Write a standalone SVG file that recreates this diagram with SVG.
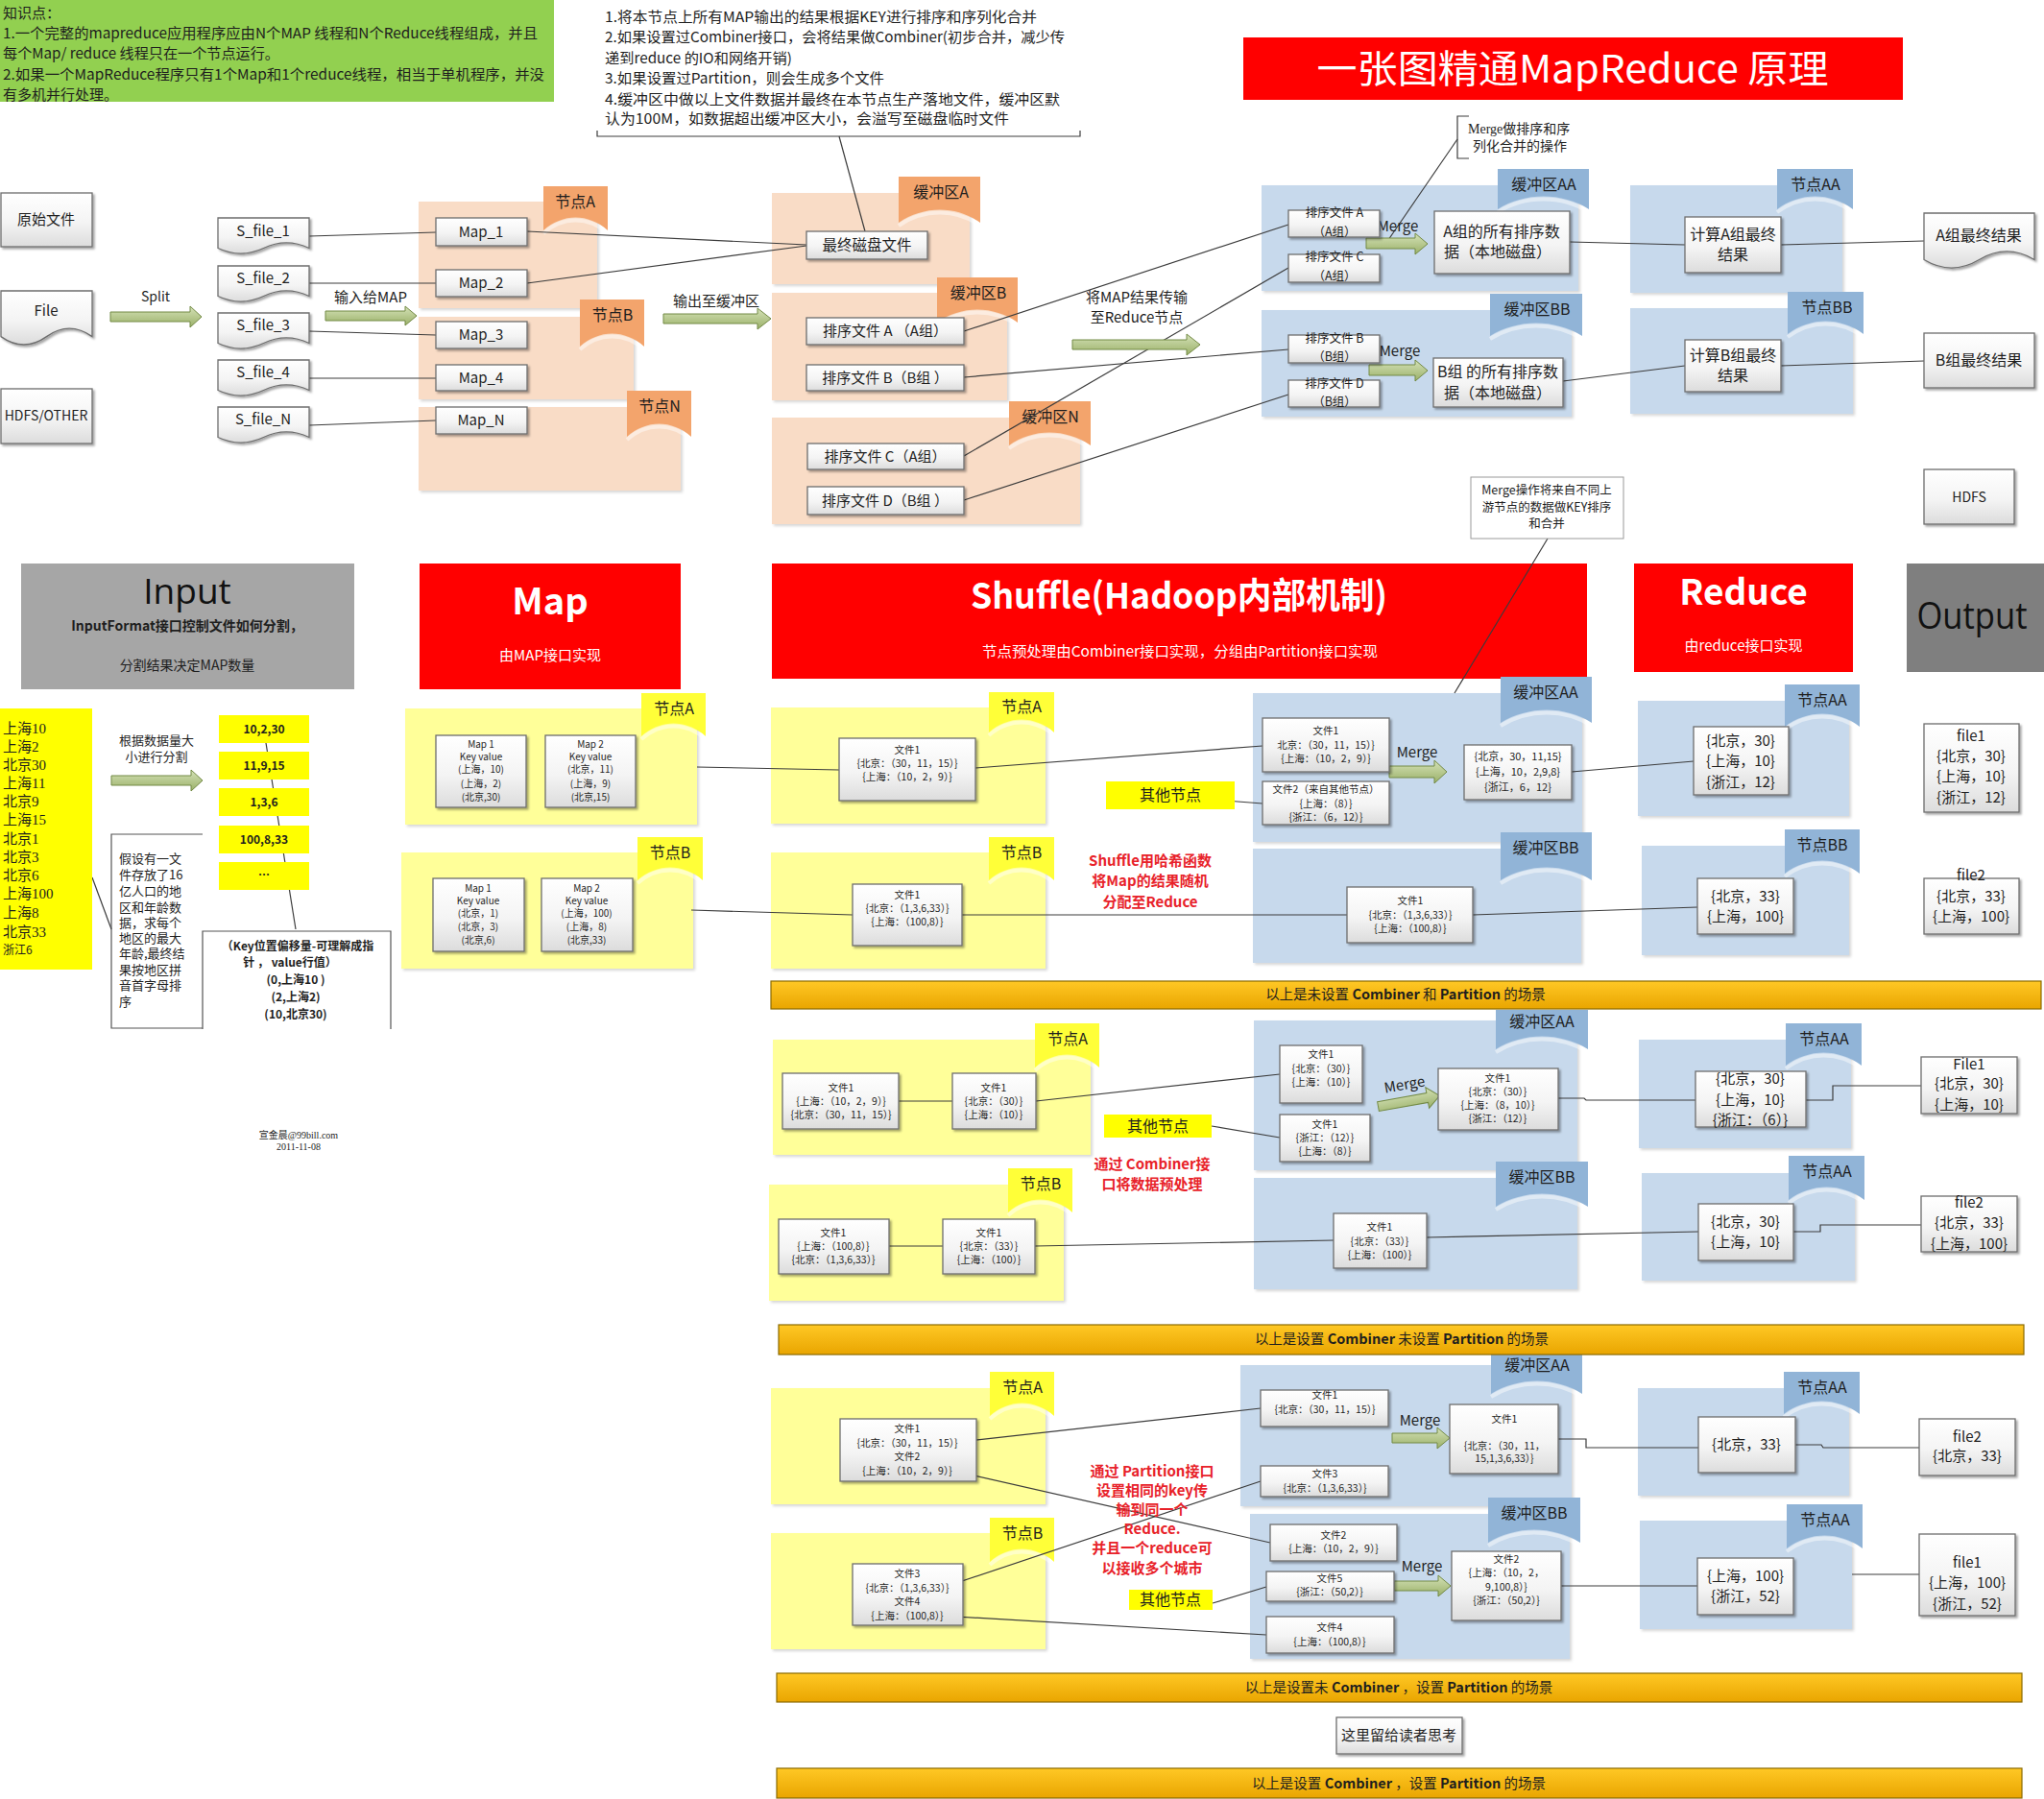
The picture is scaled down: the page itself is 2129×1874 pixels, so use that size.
<svg xmlns="http://www.w3.org/2000/svg" width="2129" height="1874" viewBox="0 0 2129 1874">
<defs>
<linearGradient id="gBox" x1="0" y1="0" x2="0" y2="1"><stop offset="0" stop-color="#ffffff"/><stop offset="0.55" stop-color="#f4f4f4"/><stop offset="1" stop-color="#dcdcdc"/></linearGradient>
<linearGradient id="gAr" x1="0" y1="0" x2="0" y2="1"><stop offset="0" stop-color="#d5e2b8"/><stop offset="1" stop-color="#9ab068"/></linearGradient>
<linearGradient id="gBar" x1="0" y1="0" x2="0" y2="1"><stop offset="0" stop-color="#ffc825"/><stop offset="1" stop-color="#e9a500"/></linearGradient>
<filter id="sh" x="-10%" y="-10%" width="125%" height="130%"><feDropShadow dx="2" dy="2" stdDeviation="1.2" flood-color="#000" flood-opacity="0.35"/></filter>
<filter id="shr" x="-5%" y="-5%" width="115%" height="115%"><feDropShadow dx="2" dy="2" stdDeviation="1.5" flood-color="#000" flood-opacity="0.16"/></filter>
</defs>
<style>
.f{font-family:"Noto Sans CJK SC","Noto Sans",sans-serif;fill:#1e1e1e}
.s{font-family:"Liberation Serif","Noto Sans CJK SC",serif;fill:#1e1e1e}
.m{text-anchor:middle}
.b{font-weight:bold}
.box{fill:url(#gBox);stroke:#6e6e6e;stroke-width:1.3;filter:url(#sh)}
.ln{fill:none;stroke:#3c3c3c;stroke-width:1.2}
.ar{fill:url(#gAr);stroke:#738a45;stroke-width:1}
.ob{fill:#f9dcc6;filter:url(#shr)}
.ot{fill:#f3a46c}
.yb{fill:#ffff99;filter:url(#shr)}
.yt{fill:#ffff38}
.bb{fill:#c7d9ec;filter:url(#shr)}
.bt{fill:#91b4d7}
.hl{fill:none;stroke:#ffffff;stroke-opacity:0.45;stroke-width:4}
.bar{fill:url(#gBar);stroke:#8a6a00;stroke-width:1.2}
.red{fill:#e8222a;font-weight:bold}
.wt{fill:#ffffff}
</style>

<!-- knowledge -->
<g id="knowledge">
<rect x="0" y="0" width="577" height="106" fill="#92d050"/>
<text class="f" font-size="15" x="3" y="19">知识点：</text>
<text class="f" font-size="15" x="3" y="40" textLength="557" lengthAdjust="spacingAndGlyphs">1.一个完整的mapreduce应用程序应由N个MAP 线程和N个Reduce线程组成，并且</text>
<text class="f" font-size="15" x="3" y="61" textLength="288" lengthAdjust="spacingAndGlyphs">每个Map/ reduce 线程只在一个节点运行。</text>
<text class="f" font-size="15" x="3" y="83" textLength="564" lengthAdjust="spacingAndGlyphs">2.如果一个MapReduce程序只有1个Map和1个reduce线程，相当于单机程序，并没</text>
<text class="f" font-size="15" x="3" y="104">有多机并行处理。</text>
</g>

<g id="note-buffer">
<text class="f" font-size="15" x="630" y="23" textLength="450" lengthAdjust="spacingAndGlyphs">1.将本节点上所有MAP输出的结果根据KEY进行排序和序列化合并</text>
<text class="f" font-size="15" x="630" y="44" textLength="479" lengthAdjust="spacingAndGlyphs">2.如果设置过Combiner接口，会将结果做Combiner(初步合并，减少传</text>
<text class="f" font-size="15" x="630" y="66" textLength="195" lengthAdjust="spacingAndGlyphs">递到reduce 的IO和网络开销)</text>
<text class="f" font-size="15" x="630" y="87" textLength="291" lengthAdjust="spacingAndGlyphs">3.如果设置过Partition，则会生成多个文件</text>
<text class="f" font-size="15" x="630" y="109" textLength="474" lengthAdjust="spacingAndGlyphs">4.缓冲区中做以上文件数据并最终在本节点生产落地文件，缓冲区默</text>
<text class="f" font-size="15" x="630" y="129" textLength="421" lengthAdjust="spacingAndGlyphs">认为100M，如数据超出缓冲区大小，会溢写至磁盘临时文件</text>
<path class="ln" d="M622,136 V142 H1125 V136" stroke="#555"/>
</g>

<g id="title">
<rect x="1295" y="39" width="687" height="65" fill="#ff0000"/>
<text class="f m wt" font-size="40" x="1638" y="86" textLength="533" lengthAdjust="spacingAndGlyphs">一张图精通MapReduce 原理</text>
</g>

<g id="note-merge">
<path class="ln" d="M1530,121 H1518 V165 H1530"/>
<text class="s" font-size="14" x="1529" y="139">Merge做排序和序</text>
<text class="s" font-size="14" x="1534" y="157">列化合并的操作</text>
</g>

<!-- top regions -->
<g id="reg-nodeA"><rect class="ob" x="436" y="210" width="186" height="111"/><path class="ot" d="M566,194 H633 V240 C613,222 586,222 566,240 Z"/><path class="hl" d="M566,243 C586,225 613,225 633,243"/><text class="f m" font-size="16" x="599" y="216">节点A</text></g>
<g id="reg-nodeB"><rect class="ob" x="436" y="330" width="224" height="86"/><path class="ot" d="M604,312 H671 V361 C651,343 624,343 604,361 Z"/><path class="hl" d="M604,364 C624,346 651,346 671,364"/><text class="f m" font-size="16" x="638" y="334">节点B</text></g>
<g id="reg-nodeN"><rect class="ob" x="436" y="424" width="273" height="87"/><path class="ot" d="M653,407 H720 V455 C700,437 673,437 653,455 Z"/><path class="hl" d="M653,458 C673,440 700,440 720,458"/><text class="f m" font-size="16" x="687" y="429">节点N</text></g>
<g id="reg-bufA"><rect class="ob" x="804" y="201" width="206" height="95"/><path class="ot" d="M936,184 H1021 V232 C996,214 962,214 936,232 Z"/><path class="hl" d="M936,235 C962,217 996,217 1021,235"/><text class="f m" font-size="16" x="980" y="206">缓冲区A</text></g>
<g id="reg-bufB"><rect class="ob" x="804" y="305" width="245" height="112"/><path class="ot" d="M976,289 H1060 V336 C1035,318 1001,318 976,336 Z"/><path class="hl" d="M976,339 C1001,321 1035,321 1060,339"/><text class="f m" font-size="16" x="1019" y="311">缓冲区B</text></g>
<g id="reg-bufN"><rect class="ob" x="804" y="435" width="321" height="111"/><path class="ot" d="M1051,418 H1136 V464 C1110,446 1076,446 1051,464 Z"/><path class="hl" d="M1051,467 C1076,449 1110,449 1136,467"/><text class="f m" font-size="16" x="1094" y="440">缓冲区N</text></g>
<g id="reg-bufAA"><rect class="bb" x="1314" y="193" width="330" height="110"/><path class="bt" d="M1560,176 H1655 V218 C1627,200 1588,200 1560,218 Z"/><path class="hl" d="M1560,221 C1588,203 1627,203 1655,221"/><text class="f m" font-size="16" x="1608" y="198">缓冲区AA</text></g>
<g id="reg-nodeAA"><rect class="bb" x="1698" y="193" width="221" height="112"/><path class="bt" d="M1851,176 H1930 V218 C1906,200 1875,200 1851,218 Z"/><path class="hl" d="M1851,221 C1875,203 1906,203 1930,221"/><text class="f m" font-size="16" x="1891" y="198">节点AA</text></g>
<g id="reg-bufBB"><rect class="bb" x="1314" y="323" width="323" height="111"/><path class="bt" d="M1552,306 H1648 V350 C1619,332 1581,332 1552,350 Z"/><path class="hl" d="M1552,353 C1581,335 1619,335 1648,353"/><text class="f m" font-size="16" x="1601" y="328">缓冲区BB</text></g>
<g id="reg-nodeBB"><rect class="bb" x="1698" y="321" width="232" height="110"/><path class="bt" d="M1862,304 H1941 V348 C1917,330 1886,330 1862,348 Z"/><path class="hl" d="M1862,351 C1886,333 1917,333 1941,351"/><text class="f m" font-size="16" x="1903" y="326">节点BB</text></g>

<!-- headers -->
<g id="hdr-input"><rect x="22" y="587" width="347" height="131" fill="#a6a6a6"/><text class="m" font-family="Open Sans,Noto Sans,sans-serif" font-size="37" fill="#111" x="195" y="629">Input</text><text class="f m b" font-size="14" x="195" y="657">InputFormat接口控制文件如何分割，</text><text class="f m" font-size="14" x="195" y="698">分割结果决定MAP数量</text></g>
<g id="hdr-map"><rect x="437" y="587" width="272" height="131" fill="#ff0000"/><text class="f m b wt" font-size="38" x="573" y="640">Map</text><text class="f m wt" font-size="15" x="573" y="688">由MAP接口实现</text></g>
<g id="hdr-shuffle"><rect x="804" y="587" width="849" height="120" fill="#ff0000"/><text class="f m b wt" font-size="37" x="1228" y="634" textLength="434" lengthAdjust="spacingAndGlyphs">Shuffle(Hadoop内部机制)</text><text class="f m wt" font-size="15" x="1229" y="684" textLength="412" lengthAdjust="spacingAndGlyphs">节点预处理由Combiner接口实现，分组由Partition接口实现</text></g>
<g id="hdr-reduce"><rect x="1702" y="587" width="228" height="113" fill="#ff0000"/><text class="f m b wt" font-size="37" x="1816" y="630">Reduce</text><text class="f m wt" font-size="15" x="1816" y="678">由reduce接口实现</text></g>
<g id="hdr-output"><rect x="1986" y="587" width="143" height="113" fill="#7f7f7f"/><text class="m" font-family="Open Sans,Noto Sans,sans-serif" font-size="38" fill="#111" x="2054" y="655" textLength="115" lengthAdjust="spacingAndGlyphs">Output</text></g>

<!-- section regions -->
<g id="reg-mapA"><rect class="yb" x="422" y="738" width="304" height="121"/><path class="yt" d="M668,722 H735 V767 C715,749 688,749 668,767 Z"/><path class="hl" d="M668,770 C688,752 715,752 735,770"/><text class="f m" font-size="16" x="702" y="744">节点A</text></g>
<g id="reg-mapB"><rect class="yb" x="418" y="888" width="304" height="121"/><path class="yt" d="M664,872 H732 V917 C712,899 684,899 664,917 Z"/><path class="hl" d="M664,920 C684,902 712,902 732,920"/><text class="f m" font-size="16" x="698" y="894">节点B</text></g>
<g id="reg-shA1"><rect class="yb" x="803" y="737" width="286" height="121"/><path class="yt" d="M1030,721 H1098 V763 C1078,745 1050,745 1030,763 Z"/><path class="hl" d="M1030,766 C1050,748 1078,748 1098,766"/><text class="f m" font-size="16" x="1064" y="742">节点A</text></g>
<g id="reg-shB1"><rect class="yb" x="803" y="888" width="286" height="121"/><path class="yt" d="M1030,872 H1098 V917 C1078,899 1050,899 1030,917 Z"/><path class="hl" d="M1030,920 C1050,902 1078,902 1098,920"/><text class="f m" font-size="16" x="1064" y="894">节点B</text></g>
<g id="reg-bufAA1"><rect class="bb" x="1305" y="722" width="343" height="155"/><path class="bt" d="M1563,705 H1658 V753 C1630,735 1592,735 1563,753 Z"/><path class="hl" d="M1563,756 C1592,738 1630,738 1658,756"/><text class="f m" font-size="16" x="1610" y="727">缓冲区AA</text></g>
<g id="reg-nodeAA1"><rect class="bb" x="1706" y="730" width="220" height="120"/><path class="bt" d="M1859,713 H1937 V757 C1914,739 1882,739 1859,757 Z"/><path class="hl" d="M1859,760 C1882,742 1914,742 1937,760"/><text class="f m" font-size="16" x="1898" y="735">节点AA</text></g>
<g id="reg-bufBB1"><rect class="bb" x="1305" y="884" width="342" height="119"/><path class="bt" d="M1563,867 H1658 V917 C1630,899 1592,899 1563,917 Z"/><path class="hl" d="M1563,920 C1592,902 1630,902 1658,920"/><text class="f m" font-size="16" x="1610" y="889">缓冲区BB</text></g>
<g id="reg-nodeBB1"><rect class="bb" x="1710" y="881" width="216" height="114"/><path class="bt" d="M1859,864 H1937 V910 C1914,892 1882,892 1859,910 Z"/><path class="hl" d="M1859,913 C1882,895 1914,895 1937,913"/><text class="f m" font-size="16" x="1898" y="886">节点BB</text></g>

<g id="reg-shA2"><rect class="yb" x="805" y="1083" width="331" height="120"/><path class="yt" d="M1078,1066 H1145 V1112 C1125,1094 1098,1094 1078,1112 Z"/><path class="hl" d="M1078,1115 C1098,1097 1125,1097 1145,1115"/><text class="f m" font-size="16" x="1112" y="1088">节点A</text></g>
<g id="reg-shB2"><rect class="yb" x="801" y="1234" width="307" height="121"/><path class="yt" d="M1050,1217 H1117 V1263 C1097,1245 1070,1245 1050,1263 Z"/><path class="hl" d="M1050,1266 C1070,1248 1097,1248 1117,1266"/><text class="f m" font-size="16" x="1084" y="1239">节点B</text></g>
<g id="reg-bufAA2"><rect class="bb" x="1306" y="1063" width="337" height="156"/><path class="bt" d="M1558,1052 H1654 V1093 C1625,1075 1587,1075 1558,1093 Z"/><path class="hl" d="M1558,1096 C1587,1078 1625,1078 1654,1096"/><text class="f m" font-size="16" x="1606" y="1070">缓冲区AA</text></g>
<g id="reg-nodeAA2"><rect class="bb" x="1707" y="1083" width="221" height="113"/><path class="bt" d="M1860,1066 H1939 V1110 C1915,1092 1884,1092 1860,1110 Z"/><path class="hl" d="M1860,1113 C1884,1095 1915,1095 1939,1113"/><text class="f m" font-size="16" x="1900" y="1088">节点AA</text></g>
<g id="reg-bufBB2"><rect class="bb" x="1306" y="1227" width="337" height="116"/><path class="bt" d="M1558,1210 H1654 V1257 C1625,1239 1587,1239 1558,1257 Z"/><path class="hl" d="M1558,1260 C1587,1242 1625,1242 1654,1260"/><text class="f m" font-size="16" x="1606" y="1232">缓冲区BB</text></g>
<g id="reg-nodeAA2b"><rect class="bb" x="1710" y="1222" width="222" height="112"/><path class="bt" d="M1863,1204 H1942 V1250 C1918,1232 1887,1232 1863,1250 Z"/><path class="hl" d="M1863,1253 C1887,1235 1918,1235 1942,1253"/><text class="f m" font-size="16" x="1903" y="1226">节点AA</text></g>

<g id="reg-shA3"><rect class="yb" x="803" y="1446" width="286" height="121"/><path class="yt" d="M1031,1429 H1098 V1475 C1078,1457 1051,1457 1031,1475 Z"/><path class="hl" d="M1031,1478 C1051,1460 1078,1460 1098,1478"/><text class="f m" font-size="16" x="1065" y="1451">节点A</text></g>
<g id="reg-shB3"><rect class="yb" x="803" y="1597" width="286" height="121"/><path class="yt" d="M1031,1581 H1098 V1627 C1078,1609 1051,1609 1031,1627 Z"/><path class="hl" d="M1031,1630 C1051,1612 1078,1612 1098,1630"/><text class="f m" font-size="16" x="1065" y="1603">节点B</text></g>
<g id="reg-bufAA3"><rect class="bb" x="1292" y="1422" width="345" height="147"/><path class="bt" d="M1553,1411 H1648 V1452 C1620,1434 1582,1434 1553,1452 Z"/><path class="hl" d="M1553,1455 C1582,1437 1620,1437 1648,1455"/><text class="f m" font-size="16" x="1601" y="1428">缓冲区AA</text></g>
<g id="reg-nodeAA3"><rect class="bb" x="1706" y="1446" width="220" height="112"/><path class="bt" d="M1858,1429 H1937 V1473 C1913,1455 1882,1455 1858,1473 Z"/><path class="hl" d="M1858,1476 C1882,1458 1913,1458 1937,1476"/><text class="f m" font-size="16" x="1898" y="1451">节点AA</text></g>
<g id="reg-bufBB3"><rect class="bb" x="1302" y="1577" width="333" height="151"/><path class="bt" d="M1550,1560 H1646 V1607 C1617,1589 1579,1589 1550,1607 Z"/><path class="hl" d="M1550,1610 C1579,1592 1617,1592 1646,1610"/><text class="f m" font-size="16" x="1598" y="1582">缓冲区BB</text></g>
<g id="reg-nodeAA3b"><rect class="bb" x="1708" y="1584" width="221" height="113"/><path class="bt" d="M1861,1567 H1940 V1613 C1916,1595 1885,1595 1861,1613 Z"/><path class="hl" d="M1861,1616 C1885,1598 1916,1598 1940,1616"/><text class="f m" font-size="16" x="1901" y="1589">节点AA</text></g>

<!-- connectors -->
<g id="connectors" class="ln">
<line x1="322" y1="246" x2="454" y2="242"/>
<line x1="322" y1="295" x2="454" y2="295"/>
<line x1="322" y1="345" x2="454" y2="349"/>
<line x1="322" y1="394" x2="454" y2="394"/>
<line x1="322" y1="443" x2="454" y2="438"/>
<line x1="549" y1="241" x2="840" y2="255"/>
<line x1="549" y1="295" x2="840" y2="256"/>
<line x1="874" y1="142" x2="901" y2="241"/>
<line x1="1004" y1="345" x2="1342" y2="234"/>
<line x1="1004" y1="475" x2="1342" y2="279"/>
<line x1="1004" y1="393" x2="1342" y2="364"/>
<line x1="1004" y1="521" x2="1342" y2="411"/>
<line x1="1635" y1="252" x2="1755" y2="255"/>
<line x1="1855" y1="255" x2="2004" y2="251"/>
<line x1="1628" y1="397" x2="1755" y2="381"/>
<line x1="1855" y1="381" x2="2004" y2="376"/>
<line x1="1518" y1="145" x2="1446" y2="250"/>
<line x1="1612" y1="561" x2="1515" y2="722"/>
<line x1="277" y1="774" x2="308" y2="968"/>
<line x1="96" y1="914" x2="116" y2="968"/>
<line x1="726" y1="799" x2="874" y2="802"/>
<line x1="720" y1="948" x2="888" y2="953"/>
<line x1="1016" y1="800" x2="1315" y2="777"/>
<line x1="1002" y1="953" x2="1403" y2="953"/>
<line x1="1251" y1="832" x2="1315" y2="837"/>
<line x1="1637" y1="804" x2="1764" y2="793"/>
<line x1="1534" y1="953" x2="1768" y2="945"/>
<line x1="936" y1="1147" x2="992" y2="1147"/>
<line x1="1079" y1="1147" x2="1333" y2="1119"/>
<line x1="1262" y1="1173" x2="1333" y2="1185"/>
<polyline points="1623,1144 1650,1144 1652,1146 1766,1146"/>
<polyline points="1881,1146 1909,1146 1909,1131 2001,1131"/>
<line x1="926" y1="1298" x2="982" y2="1298"/>
<line x1="1078" y1="1298" x2="1389" y2="1292"/>
<line x1="1486" y1="1289" x2="1769" y2="1283"/>
<polyline points="1868,1283 1896,1283 1896,1276 2001,1276"/>
<line x1="990" y1="1503" x2="1313" y2="1467"/>
<line x1="992" y1="1532" x2="1323" y2="1607"/>
<line x1="981" y1="1654" x2="1313" y2="1543"/>
<line x1="979" y1="1683" x2="1319" y2="1703"/>
<line x1="1263" y1="1670" x2="1319" y2="1653"/>
<polyline points="1623,1499 1652,1499 1652,1508 1769,1508"/>
<polyline points="1870,1505 1897,1505 1899,1508 1999,1508"/>
<line x1="1626" y1="1652" x2="1768" y2="1652"/>
<line x1="1929" y1="1640" x2="1999" y2="1640"/>
</g>

<!-- arrows -->
<g id="arrows" class="ar">
<path d="M115,325 H198 V319 L210,330 L198,341 V335 H115 Z"/>
<path d="M339,324 H422 V319 L434,329 L422,339 V334 H339 Z"/>
<path d="M691,327 H789 V321 L803,332 L789,343 V337 H691 Z"/>
<path d="M1117,354 H1236 V348 L1250,359 L1236,370 V364 H1117 Z"/>
<path d="M1423,248 H1474 V243 L1487,254 L1474,265 V259 H1423 Z"/>
<path d="M1426,380 H1474 V375 L1487,386 L1474,397 V391 H1426 Z"/>
<path d="M116,808 H199 V802 L211,813 L199,824 V818 H116 Z"/>
<path d="M1447,798 H1494 V792 L1507,804 L1494,816 V810 H1447 Z"/>
<path transform="rotate(-10 1467 1147)" d="M1435,1142 H1487 V1136 L1500,1147 L1487,1158 V1152 H1435 Z"/>
<path d="M1450,1493 H1497 V1487 L1510,1498 L1497,1509 V1503 H1450 Z"/>
<path d="M1452,1647 H1498 V1641 L1511,1652 L1498,1663 V1657 H1452 Z"/>
</g>
<g id="arrow-labels">
<text class="f m" font-size="14" x="162" y="314">Split</text>
<text class="f m" font-size="15" x="386" y="315">输入给MAP</text>
<text class="f m" font-size="15" x="746" y="319">输出至缓冲区</text>
<text class="f m" font-size="15" x="1184" y="315">将MAP结果传输</text>
<text class="f m" font-size="15" x="1184" y="336">至Reduce节点</text>
<text class="f m" font-size="15" x="1456" y="241">Merge</text>
<text class="f m" font-size="15" x="1458" y="371">Merge</text>
<text class="f m" font-size="13" x="163" y="776">根据数据量大</text>
<text class="f m" font-size="13" x="163" y="793">小进行分割</text>
<text class="f m" font-size="15" x="1476" y="789">Merge</text>
<text class="f m" font-size="15" x="1463" y="1135" transform="rotate(-10 1463 1130)">Merge</text>
<text class="f m" font-size="15" x="1479" y="1485">Merge</text>
<text class="f m" font-size="15" x="1481" y="1637">Merge</text>
</g>

<!-- top nodes -->
<g id="n-src"><rect class="box" x="1" y="201" width="95" height="56"/><text class="f m" font-size="15" x="48" y="234">原始文件</text></g>
<g id="n-file"><path class="box" d="M1,303 H96 V350.6 Q72.25,333.8 48.5,350.6 T1,350.6 Z"/><text class="f m" font-size="15" x="48" y="329">File</text></g>
<g id="n-hdfsother"><rect class="box" x="1" y="405" width="95" height="57"/><text class="f m" font-size="14" x="48" y="438">HDFS/OTHER</text></g>
<g id="n-sf1"><path class="box" d="M227,227 H322 V258.5 Q298.25,247.4 274.5,258.5 T227,258.5 Z"/><text class="f m" font-size="15" x="274" y="246">S_file_1</text></g>
<g id="n-sf2"><path class="box" d="M227,277 H322 V308.5 Q298.25,297.4 274.5,308.5 T227,308.5 Z"/><text class="f m" font-size="15" x="274" y="295">S_file_2</text></g>
<g id="n-sf3"><path class="box" d="M227,326 H322 V357.5 Q298.25,346.4 274.5,357.5 T227,357.5 Z"/><text class="f m" font-size="15" x="274" y="344">S_file_3</text></g>
<g id="n-sf4"><path class="box" d="M227,375 H322 V406.5 Q298.25,395.4 274.5,406.5 T227,406.5 Z"/><text class="f m" font-size="15" x="274" y="393">S_file_4</text></g>
<g id="n-sfN"><path class="box" d="M227,424 H322 V455.5 Q298.25,444.4 274.5,455.5 T227,455.5 Z"/><text class="f m" font-size="15" x="274" y="442">S_file_N</text></g>
<g id="n-map1"><rect class="box" x="454" y="227" width="95" height="29"/><text class="f m" font-size="15" x="501" y="247">Map_1</text></g>
<g id="n-map2"><rect class="box" x="454" y="281" width="95" height="28"/><text class="f m" font-size="15" x="501" y="300">Map_2</text></g>
<g id="n-map3"><rect class="box" x="454" y="335" width="95" height="28"/><text class="f m" font-size="15" x="501" y="354">Map_3</text></g>
<g id="n-map4"><rect class="box" x="454" y="380" width="95" height="27"/><text class="f m" font-size="15" x="501" y="399">Map_4</text></g>
<g id="n-mapN"><rect class="box" x="454" y="424" width="95" height="28"/><text class="f m" font-size="15" x="501" y="443">Map_N</text></g>
<g id="n-disk"><rect class="box" x="840" y="241" width="126" height="29"/><text class="f m" font-size="15.5" x="903" y="261">最终磁盘文件</text></g>
<g id="n-sortA"><rect class="box" x="840" y="331" width="164" height="28"/><text class="f m" font-size="15" x="922" y="350">排序文件 A （A组）</text></g>
<g id="n-sortB"><rect class="box" x="840" y="380" width="164" height="27"/><text class="f m" font-size="15" x="922" y="399">排序文件 B（B组 ）</text></g>
<g id="n-sortC"><rect class="box" x="841" y="462" width="163" height="27"/><text class="f m" font-size="15" x="922" y="481">排序文件 C（A组）</text></g>
<g id="n-sortD"><rect class="box" x="841" y="507" width="163" height="29"/><text class="f m" font-size="15" x="922" y="527">排序文件 D（B组 ）</text></g>
<g id="n-aaA"><rect class="box" x="1342" y="219" width="95" height="28"/><text class="f m" font-size="12.5" x="1390" y="226">排序文件 A</text><text class="f m" font-size="12.5" x="1390" y="246">（A组）</text></g>
<g id="n-aaC"><rect class="box" x="1342" y="265" width="95" height="29"/><text class="f m" font-size="12.5" x="1390" y="272">排序文件 C</text><text class="f m" font-size="12.5" x="1390" y="292">（A组）</text></g>
<g id="n-bbB"><rect class="box" x="1342" y="349" width="95" height="29"/><text class="f m" font-size="12.5" x="1390" y="357">排序文件 B</text><text class="f m" font-size="12.5" x="1390" y="376">（B组）</text></g>
<g id="n-bbD"><rect class="box" x="1342" y="396" width="95" height="28"/><text class="f m" font-size="12.5" x="1390" y="404">排序文件 D</text><text class="f m" font-size="12.5" x="1390" y="423">（B组）</text></g>
<g id="n-allA"><rect class="box" x="1494" y="220" width="141" height="65"/><text class="f m" font-size="16" x="1564" y="247">A组的所有排序数</text><text class="f m" font-size="16" x="1560" y="268">据（本地磁盘）</text></g>
<g id="n-allB"><rect class="box" x="1493" y="373" width="135" height="51"/><text class="f m" font-size="16" x="1560" y="393">B组 的所有排序数</text><text class="f m" font-size="16" x="1560" y="415">据（本地磁盘）</text></g>
<g id="n-calcA"><rect class="box" x="1755" y="226" width="100" height="58"/><text class="f m" font-size="16" x="1805" y="250">计算A组最终</text><text class="f m" font-size="16" x="1805" y="271">结果</text></g>
<g id="n-calcB"><rect class="box" x="1755" y="354" width="100" height="54"/><text class="f m" font-size="16" x="1805" y="376">计算B组最终</text><text class="f m" font-size="16" x="1805" y="397">结果</text></g>
<g id="n-resA"><path class="box" d="M2004,222 H2119 V270.5 Q2090.25,253.4 2061.5,270.5 T2004,270.5 Z"/><text class="f m" font-size="16" x="2061" y="251">A组最终结果</text></g>
<g id="n-resB"><rect class="box" x="2004" y="347" width="115" height="57"/><text class="f m" font-size="16" x="2061" y="381">B组最终结果</text></g>
<g id="n-mergenote"><rect x="1532" y="497" width="159" height="64" fill="#ffffff" stroke="#9a9a9a" stroke-width="1"/><text class="f m" font-size="12.5" x="1611" y="515">Merge操作将来自不同上</text><text class="f m" font-size="12.5" x="1611" y="533">游节点的数据做KEY排序</text><text class="f m" font-size="12.5" x="1611" y="550">和合并</text></g>
<g id="n-hdfs"><rect class="box" x="2004" y="489" width="94" height="57"/><text class="f m" font-size="14" x="2051" y="523">HDFS</text></g>

<!-- input area -->
<g id="n-data"><rect x="0" y="738" width="96" height="272" fill="#ffff00"/>
<text class="s" font-size="15" x="3" y="764">上海10</text><text class="s" font-size="15" x="3" y="783">上海2</text><text class="s" font-size="15" x="3" y="802">北京30</text><text class="s" font-size="15" x="3" y="821">上海11</text><text class="s" font-size="15" x="3" y="840">北京9</text><text class="s" font-size="15" x="3" y="859">上海15</text><text class="s" font-size="15" x="3" y="879">北京1</text><text class="s" font-size="15" x="3" y="898">北京3</text><text class="s" font-size="15" x="3" y="917">北京6</text><text class="s" font-size="15" x="3" y="936">上海100</text><text class="s" font-size="15" x="3" y="956">上海8</text><text class="s" font-size="15" x="3" y="976">北京33</text><text class="f" font-size="12" x="3" y="994">浙江6</text></g>
<g id="n-split1"><rect x="228" y="745" width="94" height="29" fill="#ffff00"/><text class="f m b" font-size="12" x="275" y="764">10,2,30</text></g>
<g id="n-split2"><rect x="228" y="783" width="94" height="29" fill="#ffff00"/><text class="f m b" font-size="12" x="275" y="802">11,9,15</text></g>
<g id="n-split3"><rect x="228" y="821" width="94" height="29" fill="#ffff00"/><text class="f m b" font-size="12" x="275" y="840">1,3,6</text></g>
<g id="n-split4"><rect x="228" y="860" width="94" height="29" fill="#ffff00"/><text class="f m b" font-size="12" x="275" y="879">100,8,33</text></g>
<g id="n-split5"><rect x="228" y="898" width="94" height="29" fill="#ffff00"/><text class="f m b" font-size="12" x="275" y="916">…</text></g>
<g id="n-assume"><path d="M211,869 H116 V1071 H211" fill="none" stroke="#555" stroke-width="1.2"/>
<text class="f" font-size="13" x="124" y="899">假设有一文</text><text class="f" font-size="13" x="124" y="916">件存放了16</text><text class="f" font-size="13" x="124" y="933">亿人口的地</text><text class="f" font-size="13" x="124" y="950">区和年龄数</text><text class="f" font-size="13" x="124" y="966">据，求每个</text><text class="f" font-size="13" x="124" y="982">地区的最大</text><text class="f" font-size="13" x="124" y="998">年龄,最终结</text><text class="f" font-size="13" x="124" y="1015">果按地区拼</text><text class="f" font-size="13" x="124" y="1031">音首字母排</text><text class="f" font-size="13" x="124" y="1048">序</text></g>
<g id="n-keynote"><path d="M211,1072 V970 H407 V1072" fill="none" stroke="#555" stroke-width="1.2"/>
<text class="f m b" font-size="12" x="310" y="990">（Key位置偏移量-可理解成指</text><text class="f m b" font-size="12" x="302" y="1007">针 ， value行值）</text><text class="f m b" font-size="12" x="308" y="1025">(0,上海10 )</text><text class="f m b" font-size="12" x="308" y="1043">(2,上海2)</text><text class="f m b" font-size="12" x="308" y="1061">(10,北京30)</text></g>
<g id="footer"><text class="s m" font-size="10" fill="#333" x="311" y="1186">宣金晨@99bill.com</text><text class="s m" font-size="10" fill="#333" x="311" y="1198">2011-11-08</text></g>

<!-- section 1 nodes -->
<g id="n-s1-m1a"><rect class="box" x="454" y="766" width="94" height="75"/><g class="f m" font-size="10"><text x="501" y="778.5">Map 1</text><text x="501" y="791.5">Key value</text><text x="501" y="804.5">(上海，10)</text><text x="501" y="819.5">(上海，2)</text><text x="501" y="833.5">(北京,30)</text></g></g>
<g id="n-s1-m2a"><rect class="box" x="568" y="766" width="94" height="75"/><g class="f m" font-size="10"><text x="615" y="778.5">Map 2</text><text x="615" y="791.5">Key value</text><text x="615" y="804.5">(北京，11)</text><text x="615" y="819.5">(上海，9)</text><text x="615" y="833.5">(北京,15)</text></g></g>
<g id="n-s1-m1b"><rect class="box" x="451" y="915" width="95" height="76"/><g class="f m" font-size="10"><text x="498" y="928.5">Map 1</text><text x="498" y="941.5">Key value</text><text x="498" y="954.5">(北京，1)</text><text x="498" y="968.5">(北京，3)</text><text x="498" y="982.5">(北京,6)</text></g></g>
<g id="n-s1-m2b"><rect class="box" x="564" y="915" width="95" height="76"/><g class="f m" font-size="10"><text x="611" y="928.5">Map 2</text><text x="611" y="941.5">Key value</text><text x="611" y="954.5">(上海，100)</text><text x="611" y="968.5">(上海，8)</text><text x="611" y="982.5">(北京,33)</text></g></g>
<g id="n-s1-fa"><rect class="box" x="874" y="769" width="142" height="65"/><g class="f m" font-size="10.5"><text x="945" y="784.7">文件1</text><text x="945" y="798.7">{北京：（30，11，15）}</text><text x="945" y="812.7">{上海：（10，2，9）}</text></g></g>
<g id="n-s1-fb"><rect class="box" x="888" y="921" width="114" height="64"/><g class="f m" font-size="10.5"><text x="945" y="935.7">文件1</text><text x="945" y="949.7">{北京：（1,3,6,33）}</text><text x="945" y="963.7">{上海：（100,8）}</text></g></g>
<g id="n-s1-aa1"><rect class="box" x="1315" y="748" width="132" height="56"/><g class="f m" font-size="10.5"><text x="1381" y="764.7">文件1</text><text x="1381" y="779.7">北京：（30，11，15）}</text><text x="1381" y="793.7">{上海：（10，2，9）}</text></g></g>
<g id="n-s1-aa2"><rect class="box" x="1315" y="814" width="132" height="45"/><g class="f m" font-size="10.5"><text x="1381" y="825.7">文件2（来自其他节点）</text><text x="1381" y="840.7">{上海：（8）}</text><text x="1381" y="854.7">{浙江：（6，12）}</text></g></g>
<g id="n-s1-aam"><rect class="box" x="1525" y="776" width="112" height="57"/><g class="f m" font-size="11"><text x="1581" y="792">{北京，30，11,15}</text><text x="1581" y="808">{上海，10，2,9,8}</text><text x="1581" y="824">{浙江，6，12}</text></g></g>
<g id="n-s1-other"><rect x="1152" y="814" width="134" height="29" fill="#ffff00"/><text class="f m" font-size="16" x="1219" y="834">其他节点</text></g>
<g id="n-s1-red"><text class="f m red" font-size="15" x="1198" y="902">Shuffle用哈希函数</text><text class="f m red" font-size="15" x="1198" y="923">将Map的结果随机</text><text class="f m red" font-size="15" x="1198" y="945">分配至Reduce</text></g>
<g id="n-s1-ra"><rect class="box" x="1764" y="757" width="99" height="71"/><g class="f m" font-size="15"><text x="1813" y="777">{北京，30}</text><text x="1813" y="798">{上海，10}</text><text x="1813" y="820">{浙江，12}</text></g></g>
<g id="n-s1-out1"><rect class="box" x="2004" y="754" width="99" height="92"/><g class="f m" font-size="15"><text x="2053" y="772">file1</text><text x="2053" y="793">{北京，30}</text><text x="2053" y="814">{上海，10}</text><text x="2053" y="836">{浙江，12}</text></g></g>
<g id="n-s1-bb1"><rect class="box" x="1403" y="924" width="131" height="58"/><g class="f m" font-size="10.5"><text x="1469" y="941.7">文件1</text><text x="1469" y="956.7">{北京：（1,3,6,33）}</text><text x="1469" y="970.7">{上海：（100,8）}</text></g></g>
<g id="n-s1-rb"><rect class="box" x="1768" y="915" width="100" height="58"/><g class="f m" font-size="15"><text x="1818" y="939">{北京，33}</text><text x="1818" y="960">{上海，100}</text></g></g>
<g id="n-s1-out2"><rect class="box" x="2004" y="915" width="99" height="58"/><g class="f m" font-size="15"><text x="2053" y="917">file2</text><text x="2053" y="939">{北京，33}</text><text x="2053" y="960">{上海，100}</text></g></g>
<g id="bar1"><rect class="bar" x="803" y="1022" width="1323" height="29"/><text class="f m" font-size="14.5" x="1464" y="1041">以上是未设置 <tspan class="b">Combiner</tspan> 和 <tspan class="b">Partition</tspan> 的场景</text></g>

<!-- section 2 nodes -->
<g id="n-s2-fa"><rect class="box" x="815" y="1118" width="121" height="58"/><g class="f m" font-size="10.5"><text x="876" y="1136.7">文件1</text><text x="876" y="1150.7">{上海：（10，2，9）}</text><text x="876" y="1164.7">{北京：（30，11，15）}</text></g></g>
<g id="n-s2-ca"><rect class="box" x="992" y="1118" width="87" height="58"/><g class="f m" font-size="10.5"><text x="1035" y="1136.7">文件1</text><text x="1035" y="1150.7">{北京：（30）}</text><text x="1035" y="1164.7">{上海：（10）}</text></g></g>
<g id="n-s2-other"><rect x="1150" y="1161" width="112" height="24" fill="#ffff00"/><text class="f m" font-size="16" x="1206" y="1179">其他节点</text></g>
<g id="n-s2-red"><text class="f m red" font-size="15" x="1200" y="1218">通过 Combiner接</text><text class="f m red" font-size="15" x="1200" y="1239">口将数据预处理</text></g>
<g id="n-s2-aa1"><rect class="box" x="1333" y="1089" width="86" height="60"/><g class="f m" font-size="10.5"><text x="1376" y="1101.7">文件1</text><text x="1376" y="1116.7">{北京：（30）}</text><text x="1376" y="1130.7">{上海：（10）}</text></g></g>
<g id="n-s2-aa2"><rect class="box" x="1333" y="1161" width="94" height="49"/><g class="f m" font-size="10.5"><text x="1380" y="1174.7">文件1</text><text x="1380" y="1188.7">{浙江：（12）}</text><text x="1380" y="1202.7">{上海：（8）}</text></g></g>
<g id="n-s2-aam"><rect class="box" x="1498" y="1113" width="125" height="64"/><g class="f m" font-size="10.5"><text x="1560" y="1126.7">文件1</text><text x="1560" y="1140.7">{北京：（30）}</text><text x="1560" y="1154.7">{上海：（8，10）}</text><text x="1560" y="1168.7">{浙江：（12）}</text></g></g>
<g id="n-s2-ra"><rect class="box" x="1766" y="1116" width="115" height="58"/><g class="f m" font-size="15"><text x="1823" y="1129">{北京，30}</text><text x="1823" y="1151">{上海，10}</text><text x="1823" y="1172">{浙江：（6）}</text></g></g>
<g id="n-s2-out1"><rect class="box" x="2001" y="1101" width="100" height="59"/><g class="f m" font-size="15"><text x="2051" y="1114">File1</text><text x="2051" y="1134">{北京，30}</text><text x="2051" y="1156">{上海，10}</text></g></g>
<g id="n-s2-fb"><rect class="box" x="811" y="1270" width="115" height="57"/><g class="f m" font-size="10.5"><text x="868" y="1287.7">文件1</text><text x="868" y="1301.7">{上海：（100,8）}</text><text x="868" y="1315.7">{北京：（1,3,6,33）}</text></g></g>
<g id="n-s2-cb"><rect class="box" x="982" y="1270" width="96" height="57"/><g class="f m" font-size="10.5"><text x="1030" y="1287.7">文件1</text><text x="1030" y="1301.7">{北京：（33）}</text><text x="1030" y="1315.7">{上海：（100）}</text></g></g>
<g id="n-s2-bb1"><rect class="box" x="1389" y="1264" width="97" height="57"/><g class="f m" font-size="10.5"><text x="1437" y="1281.7">文件1</text><text x="1437" y="1296.7">{北京：（33）}</text><text x="1437" y="1310.7">{上海：（100）}</text></g></g>
<g id="n-s2-rb"><rect class="box" x="1769" y="1254" width="99" height="59"/><g class="f m" font-size="15"><text x="1818" y="1278">{北京，30}</text><text x="1818" y="1299">{上海，10}</text></g></g>
<g id="n-s2-out2"><rect class="box" x="2001" y="1246" width="100" height="58"/><g class="f m" font-size="15"><text x="2051" y="1258">file2</text><text x="2051" y="1279">{北京，33}</text><text x="2051" y="1301">{上海，100}</text></g></g>
<g id="bar2"><rect class="bar" x="811" y="1380" width="1297" height="31"/><text class="f m" font-size="14.5" x="1460" y="1400">以上是设置 <tspan class="b">Combiner</tspan> 未设置 <tspan class="b">Partition</tspan> 的场景</text></g>

<!-- section 3 nodes -->
<g id="n-s3-a"><rect class="box" x="875" y="1478" width="142" height="65"/><g class="f m" font-size="10.5"><text x="945" y="1491.7">文件1</text><text x="945" y="1506.7">{北京：（30，11，15）}</text><text x="945" y="1520.7">文件2</text><text x="945" y="1535.7">{上海：（10，2，9）}</text></g></g>
<g id="n-s3-b"><rect class="box" x="888" y="1629" width="115" height="64"/><g class="f m" font-size="10.5"><text x="945" y="1642.7">文件3</text><text x="945" y="1657.7">{北京：（1,3,6,33）}</text><text x="945" y="1671.7">文件4</text><text x="945" y="1686.7">{上海：（100,8）}</text></g></g>
<g id="n-s3-red"><text class="f m red" font-size="15" x="1200" y="1538">通过 Partition接口</text><text class="f m red" font-size="15" x="1200" y="1558">设置相同的key传</text><text class="f m red" font-size="15" x="1200" y="1578">输到同一个</text><text class="f m red" font-size="15" x="1200" y="1598">Reduce.</text><text class="f m red" font-size="15" x="1200" y="1618">并且一个reduce可</text><text class="f m red" font-size="15" x="1200" y="1639">以接收多个城市</text></g>
<g id="n-s3-other"><rect x="1176" y="1656" width="87" height="21" fill="#ffff00"/><text class="f m" font-size="16" x="1219" y="1672">其他节点</text></g>
<g id="n-s3-aa1"><rect class="box" x="1313" y="1448" width="133" height="38"/><g class="f m" font-size="10.5"><text x="1380" y="1456.7">文件1</text><text x="1380" y="1471.7">{北京：（30，11，15）}</text></g></g>
<g id="n-s3-aa3"><rect class="box" x="1313" y="1527" width="133" height="32"/><g class="f m" font-size="10.5"><text x="1380" y="1538.7">文件3</text><text x="1380" y="1553.7">{北京：（1,3,6,33）}</text></g></g>
<g id="n-s3-aam"><rect class="box" x="1510" y="1463" width="113" height="72"/><g class="f m" font-size="10.5"><text x="1567" y="1481.7">文件1</text><text x="1567" y="1509.7">{北京：（30，11，</text><text x="1567" y="1522.7">15,1,3,6,33）}</text></g></g>
<g id="n-s3-ra"><rect class="box" x="1769" y="1476" width="101" height="58"/><text class="f m" font-size="15" x="1819" y="1510">{北京，33}</text></g>
<g id="n-s3-out2"><rect class="box" x="1999" y="1478" width="100" height="59"/><g class="f m" font-size="15"><text x="2049" y="1502">file2</text><text x="2049" y="1522">{北京，33}</text></g></g>
<g id="n-s3-bb2"><rect class="box" x="1323" y="1588" width="132" height="38"/><g class="f m" font-size="10.5"><text x="1389" y="1602.7">文件2</text><text x="1389" y="1616.7">{上海：（10，2，9）}</text></g></g>
<g id="n-s3-bb5"><rect class="box" x="1319" y="1637" width="133" height="31"/><g class="f m" font-size="10.5"><text x="1385" y="1647.7">文件5</text><text x="1385" y="1661.7">{浙江：（50,2）}</text></g></g>
<g id="n-s3-bb4"><rect class="box" x="1319" y="1684" width="133" height="38"/><g class="f m" font-size="10.5"><text x="1385" y="1698.7">文件4</text><text x="1385" y="1713.7">{上海：（100,8）}</text></g></g>
<g id="n-s3-bbm"><rect class="box" x="1512" y="1616" width="114" height="72"/><g class="f m" font-size="10.5"><text x="1569" y="1627.7">文件2</text><text x="1569" y="1641.7">{上海：（10，2，</text><text x="1569" y="1656.7">9,100,8）}</text><text x="1569" y="1670.7">{浙江：（50,2）}</text></g></g>
<g id="n-s3-rb"><rect class="box" x="1768" y="1623" width="100" height="59"/><g class="f m" font-size="15"><text x="1818" y="1647">{上海，100}</text><text x="1818" y="1668">{浙江，52}</text></g></g>
<g id="n-s3-out1"><rect class="box" x="1999" y="1598" width="100" height="85"/><g class="f m" font-size="15"><text x="2049" y="1633">file1</text><text x="2049" y="1654">{上海，100}</text><text x="2049" y="1676">{浙江，52}</text></g></g>
<g id="bar3"><rect class="bar" x="809" y="1743" width="1297" height="30"/><text class="f m" font-size="14.5" x="1457" y="1763">以上是设置未 <tspan class="b">Combiner</tspan> ，设置 <tspan class="b">Partition</tspan> 的场景</text></g>
<g id="n-think"><rect class="box" x="1392" y="1789" width="131" height="38"/><text class="f m" font-size="15" x="1457" y="1813">这里留给读者思考</text></g>
<g id="bar4"><rect class="bar" x="809" y="1842" width="1297" height="31"/><text class="f m" font-size="14.5" x="1457" y="1863">以上是设置 <tspan class="b">Combiner</tspan> ，设置 <tspan class="b">Partition</tspan> 的场景</text></g>
</svg>
